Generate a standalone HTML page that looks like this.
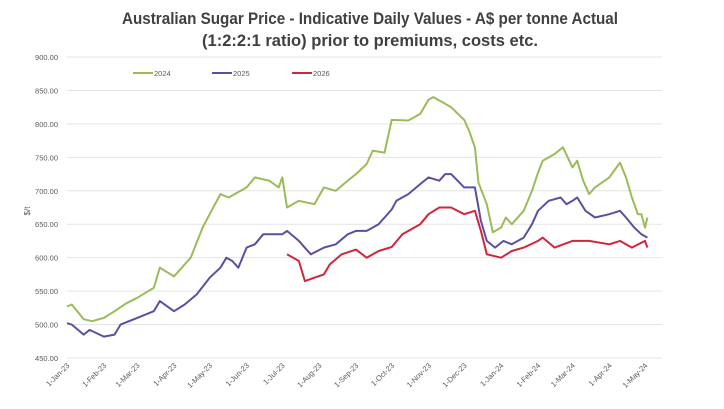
<!DOCTYPE html>
<html><head><meta charset="utf-8"><style>
body{margin:0;background:#fff;}
svg{display:block;font-family:"Liberation Sans",sans-serif;}
</style></head><body>
<svg id="chart" width="724" height="409" viewBox="0 0 724 409">
<text x="370" y="24" text-anchor="middle" font-size="17" font-weight="bold" fill="#404040" textLength="496" lengthAdjust="spacingAndGlyphs">Australian Sugar Price - Indicative Daily Values - A$ per tonne Actual</text>
<text x="370" y="46" text-anchor="middle" font-size="17" font-weight="bold" fill="#404040" textLength="336" lengthAdjust="spacingAndGlyphs">(1:2:2:1 ratio) prior to premiums, costs etc.</text>
<g id="grid"></g><g id="yt"></g><g id="xt"></g><g id="lines"></g>
<text transform="translate(30,211) rotate(-90)" text-anchor="middle" font-size="8" fill="#595959">$/t</text>
<g>
<line x1="133" y1="73" x2="153" y2="73" stroke="#9BBB59" stroke-width="2"/>
<text x="154" y="76" font-size="7.5" fill="#595959">2024</text>
<line x1="212" y1="73" x2="232" y2="73" stroke="#5B4FA0" stroke-width="2"/>
<text x="233" y="76" font-size="7.5" fill="#595959">2025</text>
<line x1="292" y1="73" x2="312" y2="73" stroke="#D0263C" stroke-width="2"/>
<text x="313" y="76" font-size="7.5" fill="#595959">2026</text>
</g>
</svg>
<script>
const yTicks=[450,500,550,600,650,700,750,800,850,900];
const xTickLabels=["1-Jan-23","1-Feb-23","1-Mar-23","1-Apr-23","1-May-23","1-Jun-23","1-Jul-23","1-Aug-23","1-Sep-23","1-Oct-23","1-Nov-23","1-Dec-23","1-Jan-24","1-Feb-24","1-Mar-24","1-Apr-24","1-May-24"];
const xTickDates=["2023-01-01","2023-02-01","2023-03-01","2023-04-01","2023-05-01","2023-06-01","2023-07-01","2023-08-01","2023-09-01","2023-10-01","2023-11-01","2023-12-01","2024-01-01","2024-02-01","2024-03-01","2024-04-01","2024-05-01"];
const dates2024=["2023-01-01","2023-01-05","2023-01-15","2023-01-22","2023-02-01","2023-02-10","2023-02-20","2023-03-01","2023-03-15","2023-03-20","2023-04-01","2023-04-15","2023-04-25","2023-05-01","2023-05-10","2023-05-17","2023-06-01","2023-06-08","2023-06-20","2023-06-28","2023-07-01","2023-07-05","2023-07-15","2023-07-28","2023-08-05","2023-08-15","2023-08-25","2023-09-01","2023-09-10","2023-09-15","2023-09-25","2023-10-01","2023-10-15","2023-10-25","2023-11-01","2023-11-05","2023-11-15","2023-11-20","2023-12-01","2023-12-05","2023-12-10","2023-12-13","2023-12-20","2023-12-25","2024-01-01","2024-01-05","2024-01-10","2024-01-20","2024-01-27","2024-02-01","2024-02-05","2024-02-15","2024-02-22","2024-03-01","2024-03-05","2024-03-10","2024-03-15","2024-03-20","2024-04-01","2024-04-10","2024-04-15","2024-04-20","2024-04-25","2024-04-28","2024-05-01","2024-05-03"];
const values2024=[527,530,508,505,510,520,532,540,555,585,572,600,645,665,695,690,705,720,715,705,720,675,685,680,705,700,715,725,740,760,757,806,805,815,836,840,830,825,806,790,765,712,680,638,645,660,650,670,700,727,745,755,765,735,745,715,695,705,720,742,720,690,665,665,645,660];
const dates2025=["2023-01-01","2023-01-05","2023-01-15","2023-01-20","2023-02-01","2023-02-10","2023-02-15","2023-03-01","2023-03-15","2023-03-20","2023-04-01","2023-04-10","2023-04-20","2023-05-01","2023-05-10","2023-05-15","2023-05-20","2023-05-25","2023-06-01","2023-06-08","2023-06-15","2023-07-01","2023-07-05","2023-07-15","2023-07-25","2023-08-05","2023-08-15","2023-08-25","2023-09-01","2023-09-10","2023-09-20","2023-10-01","2023-10-05","2023-10-15","2023-10-25","2023-11-01","2023-11-10","2023-11-15","2023-11-20","2023-12-01","2023-12-10","2023-12-15","2023-12-20","2023-12-27","2024-01-03","2024-01-10","2024-01-20","2024-01-27","2024-02-01","2024-02-10","2024-02-20","2024-02-25","2024-03-01","2024-03-05","2024-03-12","2024-03-20","2024-04-01","2024-04-10","2024-04-15","2024-04-22","2024-04-28","2024-05-03"];
const values2025=[502,500,485,492,482,485,500,510,520,535,520,530,545,570,585,600,595,585,615,620,635,635,640,625,605,615,620,635,640,640,650,672,685,695,710,720,715,725,725,705,705,655,625,615,625,620,630,650,670,685,690,680,685,690,670,660,665,670,660,645,635,630];
const dates2026=["2023-07-05","2023-07-15","2023-07-20","2023-07-28","2023-08-05","2023-08-10","2023-08-20","2023-09-01","2023-09-10","2023-09-20","2023-10-01","2023-10-10","2023-10-25","2023-11-01","2023-11-10","2023-11-20","2023-12-01","2023-12-10","2023-12-15","2023-12-20","2024-01-01","2024-01-10","2024-01-20","2024-02-01","2024-02-05","2024-02-15","2024-03-01","2024-03-15","2024-04-01","2024-04-10","2024-04-20","2024-05-01","2024-05-03"];
const values2026=[605,595,565,570,575,590,605,612,600,610,616,635,650,665,675,675,665,670,640,605,600,610,615,625,630,615,625,625,620,625,615,625,615];

const NS="http://www.w3.org/2000/svg";
const t0=Date.parse("2023-01-01"), t1=Date.parse("2024-05-01");
function xS(d){return 67+(Date.parse(d)-t0)/(t1-t0)*(645-67);}
function yS(v){return 57+(900-v)/450*301;}
function mk(tag,attrs,parent){const e=document.createElementNS(NS,tag);for(const k in attrs)e.setAttribute(k,attrs[k]);parent.appendChild(e);return e;}
const grid=document.getElementById('grid'),yt=document.getElementById('yt'),xt=document.getElementById('xt'),lines=document.getElementById('lines');
yTicks.forEach(v=>{
  const l=mk('line',{x1:67,x2:662,y1:yS(v),y2:yS(v),stroke:'#e4e4e4','stroke-width':1},grid);
  
  
  const t=mk('text',{x:58,y:yS(v)+3,'text-anchor':'end','font-size':7.5,fill:'#595959'},yt);
  t.textContent=v.toFixed(2);
  
  
});
xTickLabels.forEach((lab,i)=>{
  const x=xS(xTickDates[i]);
  const t=mk('text',{transform:'translate('+(x+3)+',366) rotate(-45)','text-anchor':'end','font-size':7.5,fill:'#595959'},xt);
  t.textContent=lab;
  
  
});
[[dates2024,values2024,'#9BBB59','2024'],[dates2025,values2025,'#5B4FA0','2025'],[dates2026,values2026,'#D0263C','2026']].forEach(([ds,vs,c,n])=>{
  const pts=ds.map((d,i)=>xS(d).toFixed(1)+','+yS(vs[i]).toFixed(1)).join(' ');
  const p=mk('polyline',{points:pts,fill:'none',stroke:c,'stroke-width':2,'stroke-linejoin':'round'},lines);
  
  
});
</script>
</body></html>
